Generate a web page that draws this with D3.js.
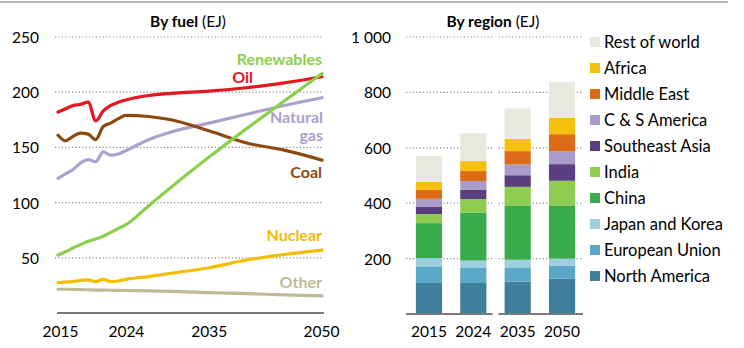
<!DOCTYPE html>
<html>
<head>
<meta charset="utf-8">
<script src="https://cdn.jsdelivr.net/npm/d3@7"></script>
<style>
  body { margin: 0; background: #fff; }
  svg { font-family: Lato, "Open Sans", sans-serif; }
</style>
</head>
<body>
<svg id="chart" width="744" height="348"></svg>
<script>
// by fuel (EJ), history annual then projection points
const years = [2015, 2016, 2017, 2018, 2019, 2020, 2021, 2022, 2023, 2024, 2027, 2030, 2035, 2040, 2045, 2050];
const oil = [182, 185, 188, 189, 191, 174, 183, 188, 191, 193, 197, 199, 201, 204, 208.5, 214];
const coal = [161, 156, 160, 163, 162, 157, 169, 172, 176, 179, 178, 175, 165, 154, 147.5, 138.5];
const gas = [122, 126, 130, 136, 139, 137, 146, 143, 144, 147, 157, 164, 172, 180, 188, 195];
const renewables = [52.5, 55.5, 59, 62, 65, 67, 69.5, 73, 76.5, 80, 97, 114, 141, 167, 192, 217];
const nuclear = [27.5, 28, 28.5, 29.5, 30, 28.5, 30.5, 28.5, 29, 30.5, 33, 36, 41, 48, 53, 57];
const other = [21.5, 21.5, 21.3, 21.2, 21, 20.8, 20.8, 20.6, 20.5, 20.4, 20, 19.5, 18.5, 17.5, 16.5, 15.5];
const fuelTicks = [50, 100, 150, 200, 250];
const fuelYearTicks = [2015, 2024, 2035, 2050];

// by region (EJ), bottom to top
const barYears = ['2015', '2024', '2035', '2050'];
const regions = ['North America', 'European Union', 'Japan and Korea', 'China', 'India',
  'Southeast Asia', 'C & S America', 'Middle East', 'Africa', 'Rest of world'];
const northAmerica = [112, 112, 117, 127];
const europeanUnion = [60, 54, 51, 47];
const japanKorea = [30, 27, 28, 26];
const china = [126, 173, 196, 192];
const india = [33, 49, 67, 89];
const southeastAsia = [27, 33, 42, 60];
const csAmerica = [28, 32, 39, 47];
const middleEast = [32, 36, 48, 61];
const africa = [29, 36, 44, 59];
const restOfWorld = [93, 101, 110, 130];
const regionTicks = [200, 400, 600, 800, 1000];

const svg = d3.select('#chart');

// top rule
svg.append('line').attr('x1', 0).attr('x2', 728).attr('y1', 2).attr('y2', 2)
  .attr('stroke', '#a0a0a0').attr('stroke-width', 1.5);

// ---------- LEFT: by fuel ----------
const x = d3.scaleLinear().domain([2015, 2050]).range([58, 322]);
const y = d3.scaleLinear().domain([0, 250]).range([313, 37]);

const title1 = svg.append('text').attr('x', 188).attr('y', 27).attr('text-anchor', 'middle')
  .attr('font-size', 15.5).attr('fill', '#000');
title1.append('tspan').attr('font-weight', 'bold').text('By fuel');
title1.append('tspan').text(' (EJ)');

const left = svg.append('g');
left.selectAll('line.grid').data(fuelTicks).join('line').attr('class', 'grid')
  .attr('x1', 55).attr('x2', 323).attr('y1', d => y(d)).attr('y2', d => y(d))
  .attr('stroke', '#8c8c8c').attr('stroke-width', 1.2).attr('stroke-dasharray', '1.2,2.2');

const yAxisL = left.append('g').attr('transform', 'translate(39,0)')
  .call(d3.axisLeft(y).tickValues(fuelTicks).tickSize(0).tickPadding(0));
yAxisL.select('.domain').remove();
yAxisL.selectAll('text').attr('font-size', 15.5).attr('font-family', 'Lato').attr('fill', '#000').attr('dy', '0.35em');

left.append('line').attr('x1', 57).attr('x2', 324).attr('y1', y(0)).attr('y2', y(0))
  .attr('stroke', '#7a7a7a').attr('stroke-width', 2);

const xAxisL = left.append('g').attr('transform', `translate(0,${y(0)})`)
  .call(d3.axisBottom(x).tickValues(fuelYearTicks).tickFormat(d3.format('d')).tickSize(0).tickPadding(13));
xAxisL.select('.domain').remove();
xAxisL.selectAll('text').attr('font-size', 15.5).attr('font-family', 'Lato').attr('fill', '#000');
xAxisL.selectAll('.tick').filter(d => d === 2050).select('text').attr('x', -1);
xAxisL.selectAll('.tick').filter(d => d === 2015).select('text').attr('x', 2);

const fuels = [
  { name: 'Other', values: other, color: '#bfbb98' },
  { name: 'Nuclear', values: nuclear, color: '#f5bd00' },
  { name: 'Natural gas', values: gas, color: '#ada0cf' },
  { name: 'Coal', values: coal, color: '#8c4a10' },
  { name: 'Oil', values: oil, color: '#e8141f' },
  { name: 'Renewables', values: renewables, color: '#8ccf4d' }
];
const line = d3.line().x(d => x(d[0])).y(d => y(d[1])).curve(d3.curveMonotoneX);
left.selectAll('path.fuel').data(fuels).join('path').attr('class', 'fuel')
  .attr('d', f => line(years.map((yr, i) => [yr, f.values[i]])))
  .attr('fill', 'none').attr('stroke', f => f.color).attr('stroke-width', 3.2)
  .attr('stroke-linejoin', 'round').attr('stroke-linecap', 'round');

const fuelLabels = [
  { lines: ['Renewables'], color: '#8ccf4d', x: 322, y: 65 },
  { lines: ['Oil'], color: '#e8141f', x: 253, y: 83 },
  { lines: ['Natural', 'gas'], color: '#ada0cf', x: 323, y: 123 },
  { lines: ['Coal'], color: '#8c4a10', x: 322, y: 178 },
  { lines: ['Nuclear'], color: '#f5bd00', x: 322, y: 241 },
  { lines: ['Other'], color: '#bfbb98', x: 322, y: 288 }
];
fuelLabels.forEach(l => {
  l.lines.forEach((t, i) => {
    left.append('text').attr('x', l.x).attr('y', l.y + i * 18).attr('text-anchor', 'end')
      .attr('font-size', 16).attr('font-weight', 'bold').attr('fill', l.color).text(t);
  });
});

// ---------- RIGHT: by region ----------
const xb = d3.scaleBand().domain(barYears).range([407, 584]).paddingInner(0.41).paddingOuter(0.2);
const yb = d3.scaleLinear().domain([0, 1000]).range([314, 37]);

const title2 = svg.append('text').attr('x', 493).attr('y', 27).attr('text-anchor', 'middle')
  .attr('font-size', 15.5).attr('fill', '#000');
title2.append('tspan').attr('font-weight', 'bold').text('By region');
title2.append('tspan').text(' (EJ)');

const right = svg.append('g');
// the axis is broken between 2024 and 2035
const gapX = (xb('2024') + xb.bandwidth() + xb('2035')) / 2;
const segs = [[406, gapX - 3], [gapX + 3, 583]];
regionTicks.forEach(t => {
  segs.forEach(s => {
    right.append('line').attr('x1', s[0]).attr('x2', s[1]).attr('y1', yb(t)).attr('y2', yb(t))
      .attr('stroke', '#8c8c8c').attr('stroke-width', 1.2).attr('stroke-dasharray', '1.2,2.2');
  });
});

const yAxisR = right.append('g').attr('transform', 'translate(391,0)')
  .call(d3.axisLeft(yb).tickValues(regionTicks).tickSize(0).tickPadding(0)
    .tickFormat(d => d3.format(',')(d).replace(',', ' ')));
yAxisR.select('.domain').remove();
yAxisR.selectAll('text').attr('font-size', 15.5).attr('font-family', 'Lato').attr('fill', '#000').attr('dy', '0.35em');

const regionColors = ['#3e7f9c', '#5aa7c8', '#9dcfe0', '#3aab4b', '#8fcc4f',
  '#5b3e80', '#a99cc8', '#dd6a16', '#f6c00f', '#e9e9e0'];
const regionSeries = [northAmerica, europeanUnion, japanKorea, china, india,
  southeastAsia, csAmerica, middleEast, africa, restOfWorld];
const table = barYears.map((yr, i) => {
  const row = { year: yr };
  regions.forEach((r, j) => { row[r] = regionSeries[j][i]; });
  return row;
});
const stack = d3.stack().keys(regions)(table);
right.selectAll('g.layer').data(stack).join('g').attr('class', 'layer')
  .attr('fill', (d, i) => regionColors[i])
  .selectAll('rect').data(d => d).join('rect')
  .attr('x', d => xb(d.data.year)).attr('width', xb.bandwidth())
  .attr('y', d => yb(d[1])).attr('height', d => yb(d[0]) - yb(d[1]));

segs.forEach(s => {
  right.append('line').attr('x1', s[0]).attr('x2', s[1]).attr('y1', yb(0)).attr('y2', yb(0))
    .attr('stroke', '#7a7a7a').attr('stroke-width', 2);
});

const xAxisR = right.append('g').attr('transform', `translate(0,${yb(0)})`)
  .call(d3.axisBottom(xb).tickSize(0).tickPadding(12));
xAxisR.select('.domain').remove();
xAxisR.selectAll('text').attr('font-size', 15.5).attr('font-family', 'Lato').attr('fill', '#000');

// legend, top entry is Rest of world
const legend = right.append('g');
const legendItems = regions.slice().reverse();
legendItems.forEach((r, i) => {
  const cy = 42 + i * 26;
  legend.append('rect').attr('x', 590).attr('y', cy - 5).attr('width', 10).attr('height', 10)
    .attr('fill', regionColors[regions.indexOf(r)]);
  legend.append('text').attr('x', 604).attr('y', cy).attr('dy', '0.35em')
    .attr('font-size', 16.5).attr('fill', '#000').text(r);
});
</script>
</body>
</html>
